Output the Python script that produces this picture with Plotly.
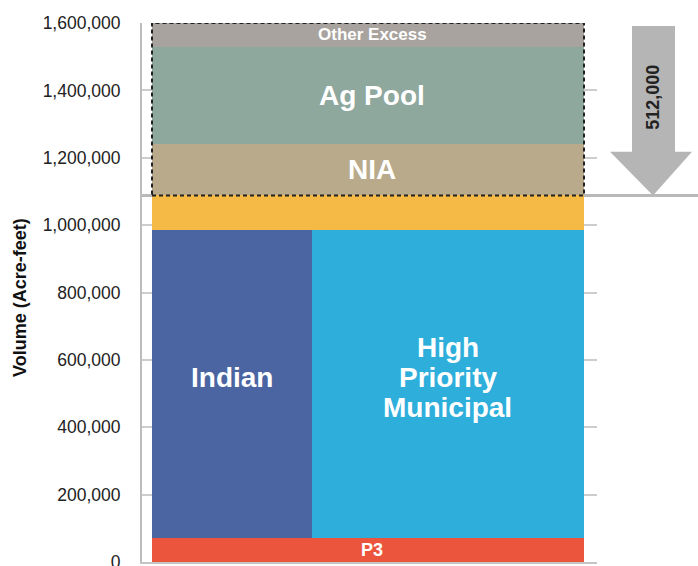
import plotly.graph_objects as go

# ---------------- data (acre-feet) ----------------
categories = ["P3", "Indian", "High Priority Municipal", "Reserve", "NIA", "Ag Pool", "Other Excess"]
bases = [0, 72000, 72000, 985000, 1088000, 1240000, 1530000]
volumes = [72000, 913000, 913000, 103000, 152000, 290000, 70000]
share_start = [0.0, 0.0, 0.37, 0.0, 0.0, 0.0, 0.0]
share_width = [1.0, 0.37, 0.63, 1.0, 1.0, 1.0, 1.0]

y_tick_values = [0, 200000, 400000, 600000, 800000, 1000000, 1200000, 1400000, 1600000]
y_tick_labels = ["0", "200,000", "400,000", "600,000", "800,000", "1,000,000",
                 "1,200,000", "1,400,000", "1,600,000"]

total_capacity = 1600000
reduction = 512000
hpm_lines = ["High", "Priority", "Municipal"]

# ---------------- style ----------------
colors = ["#ec553d", "#4a65a2", "#2eaedb", "#f5ba45", "#b8aa8b", "#8fa89e", "#a8a39e"]
label_sizes = [18, 28, 28, 0, 28, 28, 17]
FONT = "Liberation Sans, Arial, sans-serif"

fig = go.Figure()
for name, b, v, s0, w, c in zip(categories, bases, volumes, share_start, share_width, colors):
    fig.add_trace(go.Bar(
        x=[s0 + w / 2], y=[v], base=[b], width=[w], name=name,
        marker=dict(color=c, line=dict(width=0)), showlegend=False, hoverinfo="skip"))

annotations = []
for name, b, v, s0, w, size in zip(categories, bases, volumes, share_start, share_width, label_sizes):
    if name in ("Reserve", "High Priority Municipal"):
        continue
    xs = 4 if w == 1.0 else 0
    ys = 6 if name == "Indian" else 0
    annotations.append(dict(
        x=s0 + w / 2, y=b + v / 2, xref="x", yref="y", text=name, showarrow=False,
        xshift=xs, yshift=ys, xanchor="center", yanchor="middle",
        font=dict(family=FONT, size=size, color="white", weight="bold")))

# High Priority Municipal multi-line label
hi = categories.index("High Priority Municipal")
hx = share_start[hi] + share_width[hi] / 2
hy = bases[hi] + volumes[hi] / 2
for i, line in enumerate(hpm_lines):
    annotations.append(dict(
        x=hx, y=hy, xref="x", yref="y", text=line, showarrow=False,
        yshift=6 + (1 - i) * 30, xanchor="center", yanchor="middle",
        font=dict(family=FONT, size=28, color="white", weight="bold")))

# Reduction level and arrow
level = total_capacity - reduction
shapes = [
    dict(type="line", xref="paper", yref="y", x0=0, x1=1.23, y0=level, y1=level,
         line=dict(color="#b9b9b9", width=3), layer="below"),
    dict(type="rect", xref="x", yref="y", x0=0, x1=1, y0=level, y1=total_capacity,
         line=dict(color="#222222", width=2, dash="4px,3px"), fillcolor="rgba(0,0,0,0)"),
]
sl, sr, hl, hr, tx = 1.0769, 1.1714, 1.0286, 1.2088, 1.1231
top_y = total_capacity - 9000
head_y = level + 130000
path = (f"M {sl},{top_y} L {sr},{top_y} L {sr},{head_y} L {hr},{head_y} "
        f"L {tx},{level} L {hl},{head_y} L {sl},{head_y} Z")
shapes.append(dict(type="path", xref="paper", yref="y", path=path,
                   fillcolor="#b5b5b5", line=dict(width=0)))

annotations.append(dict(
    x=tx, y=1378000, xref="paper", yref="y", text=f"{reduction:,}", showarrow=False,
    textangle=-90, xanchor="center", yanchor="middle",
    font=dict(family=FONT, size=18, color="#222222", weight="bold")))

annotations.append(dict(
    x=-0.268, y=0.49, xref="paper", yref="paper", text="Volume (Acre-feet)", showarrow=False,
    textangle=-90, xanchor="center", yanchor="middle",
    font=dict(family=FONT, size=18, color="#111111", weight="bold")))

fig.update_layout(
    width=698, height=566,
    margin=dict(l=142, r=101, t=23, b=4, pad=0),
    paper_bgcolor="white", plot_bgcolor="white",
    barmode="overlay", bargap=0,
    annotations=annotations, shapes=shapes,
    xaxis=dict(range=[-0.02315, 1.0301], showticklabels=False, showgrid=False,
               zeroline=False, showline=True, linecolor="#c4c4c4", linewidth=2, ticks="",
               automargin=False),
    yaxis=dict(range=[0, total_capacity], tickvals=y_tick_values, ticktext=y_tick_labels,
               showgrid=True, gridcolor="#cdcdcd", gridwidth=1.5, zeroline=False,
               showline=True, linecolor="#bdbdbd", linewidth=2, ticks="",
               ticklabelstandoff=16, ticklabeloverflow="allow", automargin=False,
               tickfont=dict(family=FONT, size=17.5, color="#222222")),
)

fig.write_html("out.html", config={"displayModeBar": False},
               post_script="document.body.style.margin='0';")
